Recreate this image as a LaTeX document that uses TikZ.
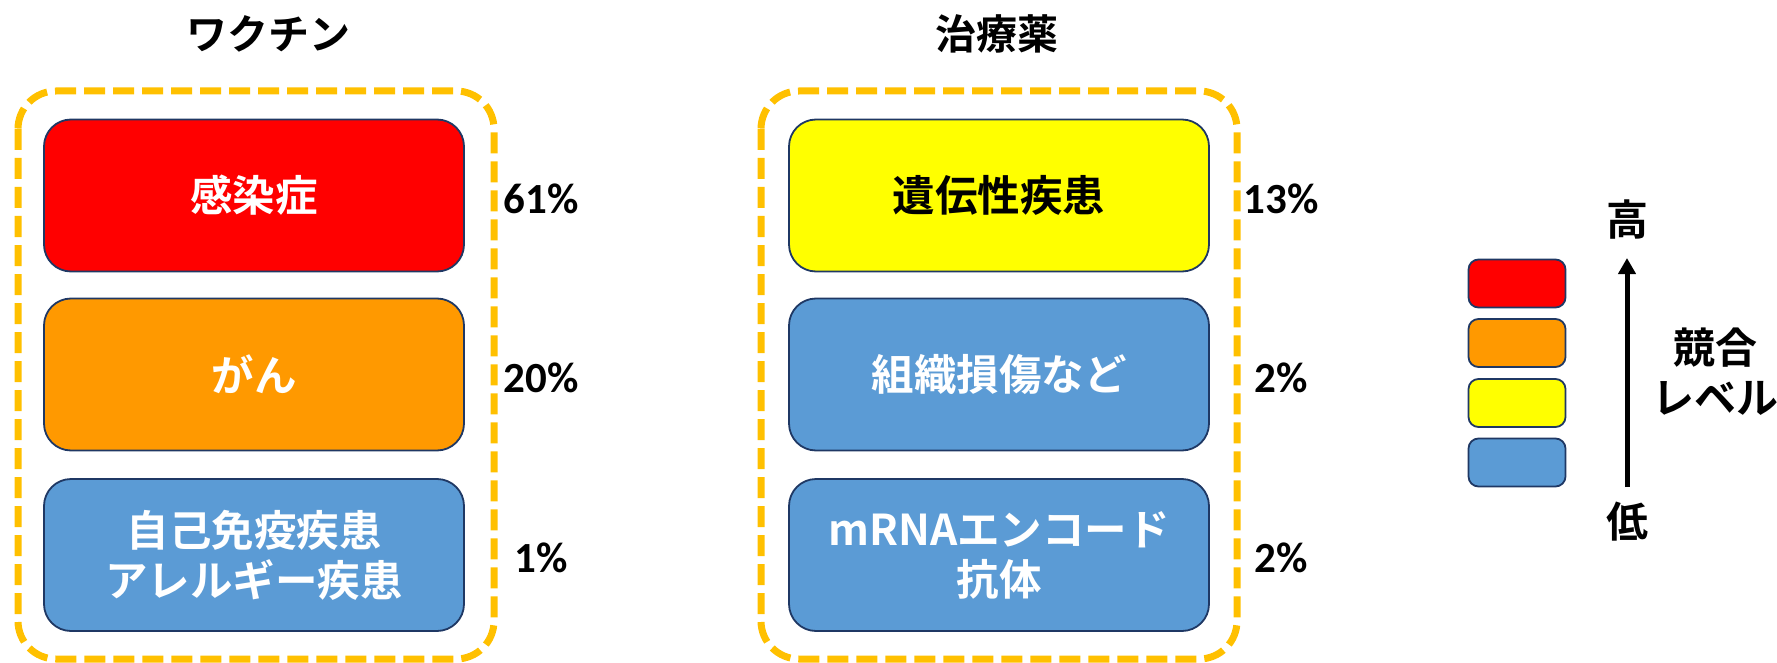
\documentclass[tikz,border=0pt]{standalone}
\usepackage{fontspec}
\setmainfont{Noto Sans CJK JP}[BoldFont={* Bold}]
\newfontfamily\latinb{Carlito}[BoldFont={* Bold}]
\usetikzlibrary{arrows.meta}
\definecolor{cred}{HTML}{FF0000}
\definecolor{corange}{HTML}{FF9900}
\definecolor{cyellow}{HTML}{FFFF00}
\definecolor{cblue}{HTML}{5B9BD5}
\definecolor{cborder}{HTML}{1F3864}
\definecolor{cdash}{HTML}{FFC000}
\tikzset{
  x=1pt, y=-1pt,
  catbox/.style={draw=cborder, line width=1.8pt, rounded corners=27pt,
    minimum width=420pt, minimum height=152pt, align=center,
    font=\fontsize{42.5}{50}\selectfont\bfseries, text=white, inner sep=0pt},
  legbox/.style={draw=cborder, line width=1.8pt, rounded corners=10pt,
    minimum width=97pt, minimum height=48pt, inner sep=0pt},
  group/.style={draw=cdash, line width=7pt, rounded corners=38pt,
    dash pattern=on 21pt off 8pt},
  pct/.style={font=\latinb\fontsize{43}{50}\selectfont\bfseries},
  ttl/.style={font=\fontsize{41}{48}\selectfont\bfseries},
  lbl/.style={font=\fontsize{42}{50}\selectfont\bfseries, align=center}
}
\begin{document}
\begin{tikzpicture}
\useasboundingbox (0,0) rectangle (1777,663);
% groups
\draw[group] (18,91) rectangle (494,659);
\draw[group] (761,91) rectangle (1237,659);
% titles
\node[ttl] (t1) at (268,34) {ワクチン};
\node[ttl] (t2) at (997,34) {治療薬};
% vaccine column
\node[catbox, fill=cred] (v1) at (254,195.5) {感染症};
\node[catbox, fill=corange] (v2) at (254,374.5) {がん};
\node[catbox, fill=cblue] (v3) at (254,555) {自己免疫疾患\\アレルギー疾患};
% therapeutic column
\node[catbox, fill=cyellow, text=black] (d1) at (999,195.5) {遺伝性疾患};
\node[catbox, fill=cblue] (d2) at (999,374.5) {組織損傷など};
\node[catbox, fill=cblue] (d3) at (999,555) {mRNAエンコード\\抗体};
% percentages
\node[pct] (p1) at (541,199) {61\%};
\node[pct] (p2) at (541,378) {20\%};
\node[pct] (p3) at (541,558) {1\%};
\node[pct] (p4) at (1281,199) {13\%};
\node[pct] (p5) at (1281,378) {2\%};
\node[pct] (p6) at (1281,558) {2\%};
% legend
\node[legbox, fill=cred] (l1) at (1517,283.5) {};
\node[legbox, fill=corange] (l2) at (1517,343) {};
\node[legbox, fill=cyellow] (l3) at (1517,403) {};
\node[legbox, fill=cblue] (l4) at (1517,462.5) {};
\node[lbl] (hi) at (1627,220) {高};
\node[lbl] (lo) at (1627,522) {低};
\coordinate (abot) at (1627,487);
\coordinate (atop) at (1627,258);
\draw[line width=5pt, -{Triangle[width=17pt,length=16pt]}] (abot) -- (atop);
\node[lbl] (cl) at (1715,372) {競合\\レベル};
\end{tikzpicture}
\end{document}
